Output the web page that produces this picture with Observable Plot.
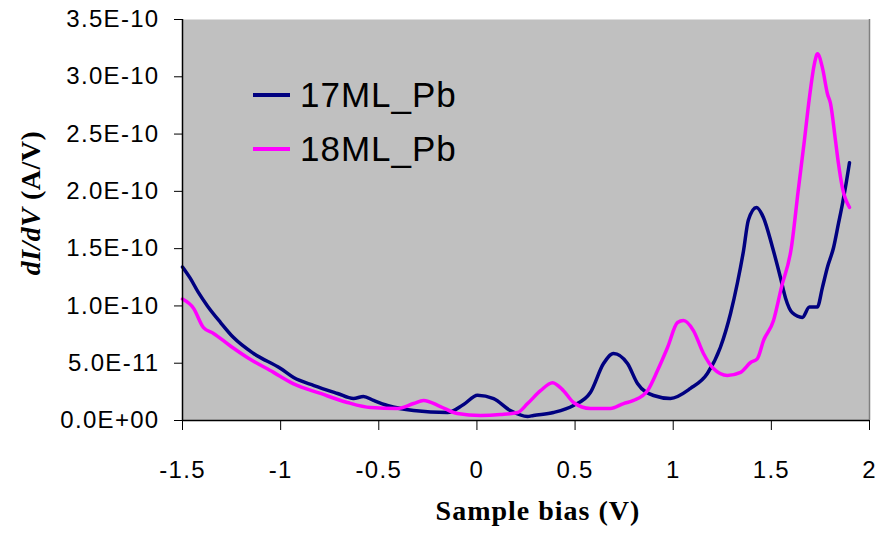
<!DOCTYPE html>
<html>
<head>
<meta charset="utf-8">
<script src="https://cdn.jsdelivr.net/npm/d3@7"></script>
<script src="https://cdn.jsdelivr.net/npm/@observablehq/plot@0.6"></script>
<style>
  html, body { margin: 0; padding: 0; background: #ffffff; }
  #chart { position: relative; width: 880px; height: 535px; }
</style>
</head>
<body>
<div id="chart"></div>
<script>
// ---- data ----
const seriesNames = ["17ML_Pb", "18ML_Pb"];
const seriesColors = ["#000080", "#ff00ff"];

const bias17 = [-1.5, -1.46, -1.42, -1.373, -1.306, -1.24, -1.138, -1.0, -0.934, -0.83, -0.71, -0.629, -0.578, -0.527, -0.456, -0.323, -0.15, -0.068, 0.003, 0.085, 0.17, 0.258, 0.288, 0.39, 0.492, 0.578, 0.645, 0.696, 0.767, 0.818, 0.9, 0.986, 1.088, 1.174, 1.24, 1.292, 1.327, 1.358, 1.383, 1.424, 1.46, 1.506, 1.546, 1.572, 1.607, 1.658, 1.694, 1.734, 1.76, 1.786, 1.817, 1.842, 1.862, 1.883, 1.898];
const didv17 = [13.4e-11, 12.4e-11, 11.2e-11, 10.0e-11, 8.55e-11, 7.24e-11, 5.85e-11, 4.54e-11, 3.75e-11, 3.05e-11, 2.36e-11, 1.92e-11, 2.1e-11, 1.75e-11, 1.31e-11, 0.87e-11, 0.7e-11, 1.4e-11, 2.2e-11, 1.9e-11, 0.87e-11, 0.35e-11, 0.44e-11, 0.7e-11, 1.31e-11, 2.44e-11, 4.97e-11, 5.85e-11, 4.97e-11, 3.23e-11, 2.18e-11, 1.92e-11, 2.8e-11, 4.1e-11, 6.37e-11, 9.34e-11, 12.0e-11, 14.8e-11, 17.5e-11, 18.6e-11, 17.7e-11, 15.1e-11, 12.5e-11, 10.7e-11, 9.4e-11, 9.0e-11, 9.9e-11, 9.9e-11, 11.6e-11, 13.4e-11, 15.1e-11, 17.2e-11, 18.9e-11, 20.9e-11, 22.5e-11];

const bias18 = [-1.5, -1.444, -1.393, -1.342, -1.256, -1.17, -1.036, -0.934, -0.797, -0.66, -0.542, -0.405, -0.323, -0.272, -0.186, -0.1, 0.018, 0.12, 0.207, 0.258, 0.324, 0.385, 0.441, 0.492, 0.578, 0.68, 0.747, 0.798, 0.869, 0.92, 0.971, 1.022, 1.052, 1.103, 1.154, 1.205, 1.276, 1.343, 1.394, 1.429, 1.46, 1.511, 1.551, 1.602, 1.637, 1.668, 1.694, 1.72, 1.735, 1.76, 1.786, 1.801, 1.827, 1.842, 1.862, 1.898];
const didv18 = [10.6e-11, 9.8e-11, 8.1e-11, 7.6e-11, 6.5e-11, 5.5e-11, 4.2e-11, 3.2e-11, 2.36e-11, 1.57e-11, 1.13e-11, 1.05e-11, 1.48e-11, 1.75e-11, 1.22e-11, 0.61e-11, 0.44e-11, 0.52e-11, 0.7e-11, 1.48e-11, 2.6e-11, 3.3e-11, 2.6e-11, 1.57e-11, 1.05e-11, 1.05e-11, 1.48e-11, 1.75e-11, 2.6e-11, 4.36e-11, 6.37e-11, 8.55e-11, 8.73e-11, 7.85e-11, 5.85e-11, 4.54e-11, 3.93e-11, 4.2e-11, 5.06e-11, 5.41e-11, 6.98e-11, 8.73e-11, 11.6e-11, 15.1e-11, 20.1e-11, 24.4e-11, 28.2e-11, 31.2e-11, 32.0e-11, 30.8e-11, 28.5e-11, 27.7e-11, 24.4e-11, 22.4e-11, 20.3e-11, 18.6e-11];

const xTicks = [-1.5, -1, -0.5, 0, 0.5, 1, 1.5, 2];
const xTickLabels = ["-1.5", "-1", "-0.5", "0", "0.5", "1", "1.5", "2"];
const yTicks = [0, 5e-11, 10e-11, 15e-11, 20e-11, 25e-11, 30e-11, 35e-11];
const yTickLabels = ["0.0E+00", "5.0E-11", "1.0E-10", "1.5E-10", "2.0E-10", "2.5E-10", "3.0E-10", "3.5E-10"];
const xLabel = "Sample bias (V)";

// ---- tables built from the arrays ----
const rows17 = bias17.map((b, i) => ({bias: b, didv: didv17[i], series: seriesNames[0]}));
const rows18 = bias18.map((b, i) => ({bias: b, didv: didv18[i], series: seriesNames[1]}));

const plot = Plot.plot({
  width: 880,
  height: 535,
  marginLeft: 182,
  marginRight: 11,
  marginTop: 19,
  marginBottom: 115,
  style: {fontFamily: "'Liberation Sans', Arial, sans-serif", fontSize: "24px", letterSpacing: "1.3px", background: "transparent", color: "#000"},
  x: {domain: [-1.5, 2]},
  y: {domain: [0, 3.5e-10]},
  marks: [
    Plot.frame({fill: "#c0c0c0", stroke: "none"}),
    Plot.ruleX([2], {stroke: "#808080", strokeWidth: 1.5}),
    Plot.line(rows17, {x: "bias", y: "didv", stroke: seriesColors[0], strokeWidth: 3.5, strokeLinejoin: "round", curve: "monotone-x"}),
    Plot.line(rows18, {x: "bias", y: "didv", stroke: seriesColors[1], strokeWidth: 3.5, strokeLinejoin: "round", curve: "monotone-x"}),
    Plot.ruleX([-1.5], {stroke: "#000", strokeWidth: 1.5}),
    Plot.ruleY([0], {stroke: "#000", strokeWidth: 1.5}),
    Plot.axisY({ticks: yTicks, tickFormat: (d, i) => yTickLabels[i], tickSize: 8, tickPadding: 15, label: null}),
    Plot.axisX({ticks: xTicks, tickFormat: (d, i) => xTickLabels[i], tickSize: 10, tickPadding: 30, label: null})
  ]
});

document.getElementById("chart").appendChild(plot);

// ---- axis titles and legend (text) ----
const svg = d3.select(plot);
const serif = "'Liberation Serif', 'Times New Roman', serif";

svg.append("text")
  .attr("x", 538).attr("y", 520)
  .attr("text-anchor", "middle")
  .style("font-family", serif).style("font-weight", "bold")
  .style("font-size", "28px").style("letter-spacing", "1px")
  .text(xLabel);

const yl = svg.append("text")
  .attr("transform", "translate(40,203) rotate(-90)")
  .attr("text-anchor", "middle")
  .style("font-family", serif).style("font-weight", "bold")
  .style("font-size", "28px").style("letter-spacing", "0.5px");
yl.append("tspan").style("font-style", "italic").text("dI/dV");
yl.append("tspan").text(" (A/V)");

const leg = svg.append("g");
seriesNames.forEach((name, i) => {
  const y = 95 + i * 54;
  leg.append("line").attr("x1", 253).attr("x2", 290).attr("y1", y).attr("y2", y)
    .attr("stroke", seriesColors[i]).attr("stroke-width", 4);
  leg.append("text").attr("x", 300).attr("y", y + 12)
    .attr("text-anchor", "start")
    .style("font-size", "35px").style("letter-spacing", "1px")
    .text(name);
});
</script>
</body>
</html>
